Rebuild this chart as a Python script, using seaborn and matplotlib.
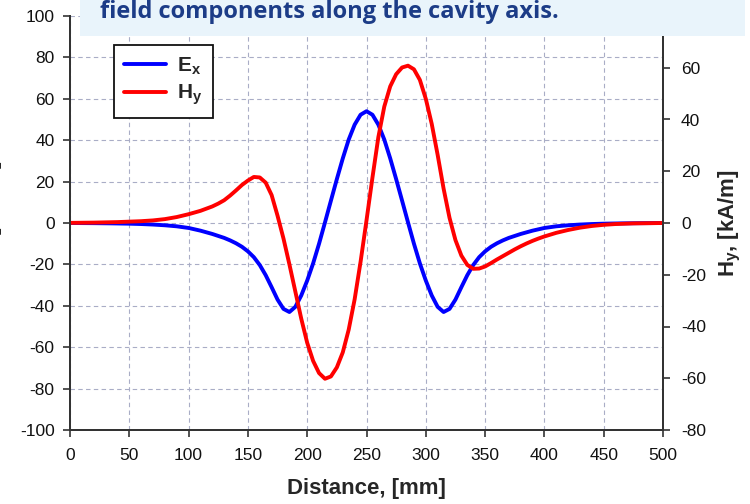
import numpy as np
import pandas as pd
import seaborn as sns
import matplotlib
matplotlib.use("Agg")
import matplotlib.pyplot as plt
from matplotlib.patches import Rectangle
from matplotlib.lines import Line2D

# ---- data ----
ex_dist = [0, 20, 35, 50, 60, 70, 80, 90, 100, 110, 120, 130, 135, 140, 145,
           150, 155, 160, 165, 170, 175, 180, 185, 190, 195, 200, 205, 210, 215, 220, 225,
           230, 235, 240, 245, 250, 255, 260, 265, 270, 275, 280, 285, 290, 295, 300, 305,
           310, 315, 320, 325, 330, 335, 340, 345, 350, 355, 360, 365, 370, 380, 390, 400,
           410, 420, 430, 440, 450, 465, 480, 500]
ex_vals = [0.0, -0.08, -0.18, -0.33, -0.5, -0.75, -1.1, -1.6, -2.4, -3.7, -5.3, -7.2, -8.4, -9.8, -11.5,
           -13.7, -16.5, -20.3, -25.2, -31.0, -37.0, -41.5, -43.0, -40.5, -35.0, -27.8, -19.5, -10.0, 0.3, 10.8, 21.2,
           31.2, 40.3, 47.5, 52.3, 54.0, 52.3, 47.5, 40.3, 31.2, 21.2, 10.8, 0.3, -10.0, -19.5, -27.8, -35.0,
           -40.5, -43.0, -41.5, -37.0, -31.0, -25.2, -20.3, -16.5, -13.7, -11.5, -9.8, -8.4, -7.2, -5.3, -3.7, -2.4,
           -1.6, -1.1, -0.75, -0.5, -0.33, -0.18, -0.08, 0.0]

hy_dist = [0, 20, 40, 60, 70, 80, 90, 100, 110, 120, 125, 130, 135, 140, 145,
           150, 155, 160, 165, 170, 175, 180, 185, 190, 195, 200, 205, 210, 215, 220, 225,
           230, 235, 240, 245, 250, 255, 260, 265, 270, 275, 280, 285, 290, 295, 300, 305,
           310, 315, 320, 325, 330, 335, 340, 345, 350, 355, 360, 365, 370, 375, 380, 385,
           390, 395, 400, 410, 420, 430, 440, 450, 460, 475, 500]
hy_vals = [0.05, 0.15, 0.35, 0.7, 1.0, 1.5, 2.3, 3.4, 4.7, 6.4, 7.5, 8.8, 10.6, 12.6, 14.7,
           16.4, 17.8, 17.6, 15.6, 10.8, 2.8, -6.0, -16.0, -26.5, -37.0, -46.3, -53.3, -58.0, -60.2, -59.3, -55.8,
           -50.0, -41.2, -29.5, -15.0, 1.0, 17.5, 33.2, 45.0, 52.8, 57.5, 60.1, 60.8, 59.4, 55.3, 48.0, 38.3,
           26.3, 13.3, 2.0, -6.6, -12.6, -16.2, -17.7, -17.6, -16.8, -15.5, -14.1, -12.8, -11.5, -10.2, -9.0, -7.9,
           -6.9, -6.0, -5.2, -3.8, -2.7, -1.8, -1.15, -0.7, -0.4, -0.15, 0.0]

x_ticks = [0, 50, 100, 150, 200, 250, 300, 350, 400, 450, 500]
left_ticks = [-100, -80, -60, -40, -20, 0, 20, 40, 60, 80, 100]
right_ticks = [-80, -60, -40, -20, 0, 20, 40, 60, 80]

title_text = "field components along the cavity axis."
x_label = "Distance, [mm]"
left_label = r"$\mathbf{E_x}$, [MV/m]"
right_label = r"$\mathbf{H_y}$, [kA/m]"

df_ex = pd.DataFrame({"Distance": ex_dist, "Ex": ex_vals})
df_hy = pd.DataFrame({"Distance": hy_dist, "Hy": hy_vals})

# ---- style ----
sns.set_style("ticks")
plt.rcParams["font.family"] = ["Liberation Sans", "DejaVu Sans"]
plt.rcParams["mathtext.fontset"] = "custom"
plt.rcParams["mathtext.bf"] = "Liberation Sans:bold"
plt.rcParams["mathtext.rm"] = "Liberation Sans:bold"
plt.rcParams["mathtext.it"] = "Liberation Sans:bold"

fig = plt.figure(figsize=(7.5, 5.04), dpi=100)
ax = fig.add_axes([70 / 750, 1 - 430 / 504, 593 / 750, 414 / 504])
ax2 = ax.twinx()

sns.lineplot(data=df_ex, x="Distance", y="Ex", ax=ax, color="#0000ff", lw=2.8,
             legend=False, solid_joinstyle="round")
sns.lineplot(data=df_hy, x="Distance", y="Hy", ax=ax2, color="#ff0000", lw=2.8,
             legend=False, solid_joinstyle="round")

ax.set_xlim(0, 500)
ax.set_ylim(-100, 100)
ax2.set_ylim(-80, 80)
ax.set_xticks(x_ticks)
ax.set_yticks(left_ticks)
ax2.set_yticks(right_ticks)

grid_col = "#a9adc6"
ax.grid(True, color=grid_col, lw=0.8, ls=(0, (4, 3)))
ax.set_axisbelow(True)

tick_font = dict(family=["Liberation Sans", "DejaVu Sans"], size=12.5)
ax.set_xticklabels([str(v) for v in x_ticks], **tick_font)
ax.set_yticklabels([str(v) for v in left_ticks], **tick_font)
ax2.set_yticklabels([str(v) for v in right_ticks], **tick_font)

for a in (ax, ax2):
    for s in a.spines.values():
        s.set_color("#333333")
        s.set_linewidth(1.4)
    a.spines["top"].set_visible(False)
    a.tick_params(direction="out", length=5, width=1.2, color="#333333", labelcolor="#111111")
ax.tick_params(axis="x", pad=8)
ax.tick_params(axis="y", pad=6)
ax2.tick_params(axis="y", pad=8)

ax.set_xlabel(x_label, fontsize=16, fontweight="bold", labelpad=11)
ax.set_ylabel("")
ax2.set_ylabel(right_label, fontsize=16, fontweight="bold", labelpad=8)
fig.text(-0.011, 0.57, left_label, rotation=90, fontsize=16, fontweight="bold",
         ha="center", va="center")

handles = [Line2D([0], [0], color="#0000ff", lw=2.8), Line2D([0], [0], color="#ff0000", lw=2.8)]
leg = ax2.legend(handles, [r"$\mathbf{E_x}$", r"$\mathbf{H_y}$"], loc="upper left",
                 bbox_to_anchor=(0.074, 0.93), borderaxespad=0, fontsize=15,
                 handlelength=2.0, frameon=True, fancybox=False, borderpad=0.5,
                 labelspacing=0.3, handletextpad=0.55)
leg.get_frame().set_edgecolor("#111111")
leg.get_frame().set_linewidth(1.3)
leg.get_frame().set_alpha(1)

# title banner (cut off at the top)
rect = Rectangle((80 / 750, 1 - 36 / 504), 665 / 750, 40 / 504, transform=fig.transFigure,
                 facecolor="#e9f4fb", edgecolor="none", zorder=10)
fig.add_artist(rect)
fig.text(100 / 750, 1 - 18 / 504, title_text, fontsize=17, fontweight="bold",
         color="#1c3c87", family=["Open Sans", "DejaVu Sans"], ha="left", va="baseline", zorder=11)

fig.savefig("out.png", dpi=100)
